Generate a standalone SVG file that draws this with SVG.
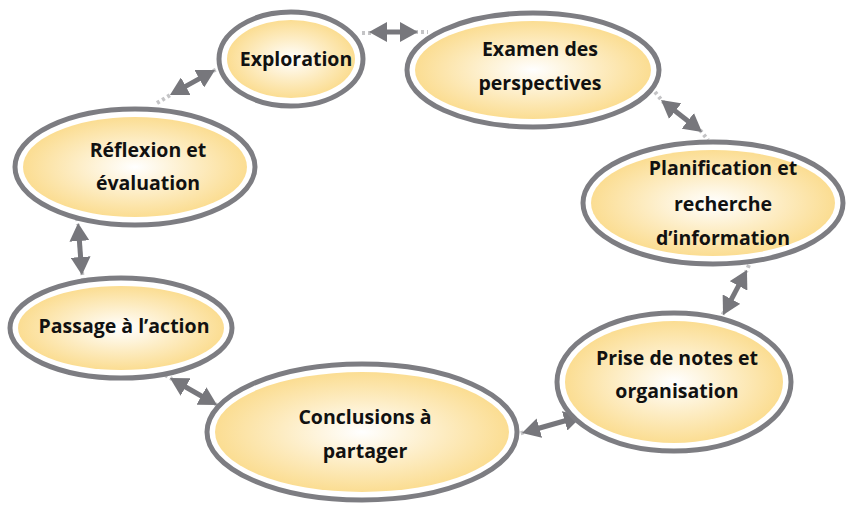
<svg xmlns="http://www.w3.org/2000/svg" width="850" height="506" viewBox="0 0 850 506">
<defs>
<radialGradient id="g" cx="50%" cy="50%" r="50%">
<stop offset="0" stop-color="#ffffff"/>
<stop offset="0.55" stop-color="#fdecc2"/>
<stop offset="1" stop-color="#fbdd92"/>
</radialGradient>
<marker id="ah" viewBox="0 0 18 20" refX="7" refY="10" markerWidth="18" markerHeight="20" markerUnits="userSpaceOnUse" orient="auto-start-reverse">
<path d="M0,0 L18,10 L0,20 Z" fill="#77777c"/>
</marker>
</defs>
<style>
.o{fill:#ffffff;stroke:#7d7d82;stroke-width:5}
.i{fill:url(#g)}
.t{font-family:"Open Sans","DejaVu Sans",sans-serif;font-weight:700;font-size:19.5px;fill:#111;text-anchor:middle}
.d{stroke:#c4c4c6;stroke-width:4;stroke-dasharray:3 3;fill:none}
.a{stroke:#77777c;stroke-width:5;fill:none;marker-start:url(#ah);marker-end:url(#ah)}
</style>
<g id="connectors">
<line class="d" x1="362" y1="33" x2="372" y2="33"/><line class="d" x1="415" y1="32" x2="428" y2="32"/>
<line class="d" x1="157" y1="103" x2="172" y2="94"/><line class="d" x1="213" y1="71" x2="222" y2="67"/>
<line class="d" x1="655" y1="92" x2="664" y2="103"/><line class="d" x1="700" y1="130" x2="708" y2="140"/>
<line class="d" x1="77" y1="218" x2="78" y2="225"/><line class="d" x1="82" y1="272" x2="83" y2="280"/>
<line class="d" x1="165" y1="375" x2="172" y2="379"/><line class="d" x1="215" y1="404" x2="224" y2="409"/>
<line class="d" x1="515" y1="435" x2="525" y2="432"/><line class="d" x1="580" y1="417" x2="590" y2="414"/>
<line class="d" x1="749" y1="265" x2="746" y2="272"/><line class="d" x1="724" y1="312" x2="721" y2="318"/>
<line class="a" x1="380" y1="32" x2="407" y2="32"/>
<line class="a" x1="179.6" y1="89.6" x2="205.4" y2="75.4"/>
<line class="a" x1="669.7" y1="106.8" x2="693.3" y2="125.2"/>
<line class="a" x1="78.9" y1="234" x2="81.1" y2="264"/>
<line class="a" x1="179.5" y1="383.5" x2="207.5" y2="399.5"/>
<line class="a" x1="532.6" y1="430" x2="571.4" y2="419"/>
<line class="a" x1="741.8" y1="279.7" x2="728.2" y2="305.3"/>
</g>
<g id="exploration">
<ellipse class="o" cx="291" cy="59" rx="72" ry="47"/>
<ellipse class="i" cx="291" cy="59" rx="64" ry="39"/>
<text class="t" x="296" y="66">Exploration</text>
</g>
<g id="examen">
<ellipse class="o" cx="533" cy="70" rx="126" ry="57"/>
<ellipse class="i" cx="533" cy="70" rx="118" ry="49"/>
<text class="t" x="540" y="56">Examen des</text>
<text class="t" x="540" y="90">perspectives</text>
</g>
<g id="planification">
<ellipse class="o" cx="713" cy="203" rx="130" ry="61"/>
<ellipse class="i" cx="713" cy="203" rx="122" ry="53"/>
<text class="t" x="723" y="175">Planification et</text>
<text class="t" x="723" y="211">recherche</text>
<text class="t" x="723" y="245">d’information</text>
</g>
<g id="prise">
<ellipse class="o" cx="674" cy="382" rx="117" ry="69"/>
<ellipse class="i" cx="674" cy="382" rx="109" ry="61"/>
<text class="t" x="677" y="365">Prise de notes et</text>
<text class="t" x="677" y="398">organisation</text>
</g>
<g id="conclusions">
<ellipse class="o" cx="362" cy="432" rx="155" ry="68"/>
<ellipse class="i" cx="362" cy="432" rx="147" ry="60"/>
<text class="t" x="365" y="424">Conclusions à</text>
<text class="t" x="365" y="458">partager</text>
</g>
<g id="passage">
<ellipse class="o" cx="121" cy="328" rx="111" ry="50"/>
<ellipse class="i" cx="121" cy="328" rx="103" ry="42"/>
<text class="t" x="124" y="333">Passage à l’action</text>
</g>
<g id="reflexion">
<ellipse class="o" cx="135" cy="167" rx="120" ry="58"/>
<ellipse class="i" cx="135" cy="167" rx="112" ry="50"/>
<text class="t" x="148" y="157">Réflexion et</text>
<text class="t" x="148" y="190">évaluation</text>
</g>
</svg>
